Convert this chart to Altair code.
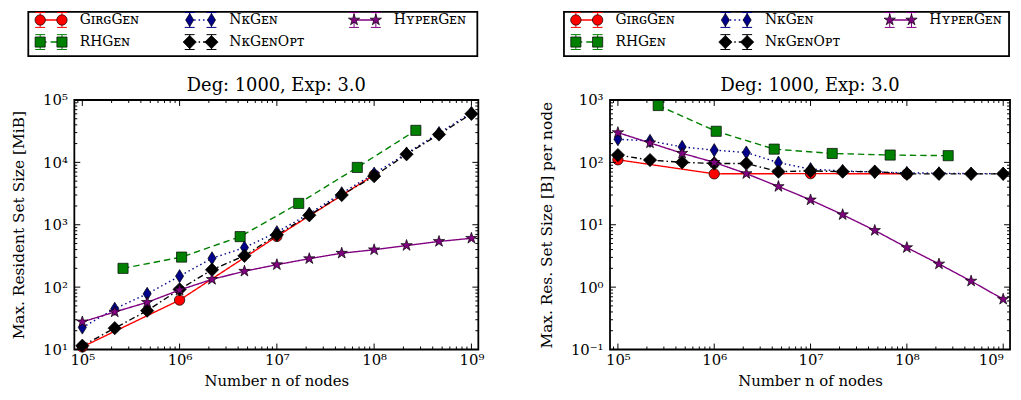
import math
import altair as alt
import pandas as pd

FONT = "DejaVu Serif"

# ---------------- data ----------------
SERIES = ["GirgGen", "RHGen", "NkGen", "NkGenOpt", "HyperGen"]
LABELS = ["GɪʀɢGᴇɴ", "RHGᴇɴ", "NᴋGᴇɴ", "NᴋGᴇɴOᴘᴛ", "HʏᴘᴇʀGᴇɴ"]

N_THIRDS = [1e5, 2.154e5, 4.642e5, 1e6, 2.154e6, 4.642e6, 1e7, 2.154e7,
            4.642e7, 1e8, 2.154e8, 4.642e8, 1e9]
N_GIRG = [1e5, 1e6, 1e7, 1e8]
N_RH = [262144, 1048576, 4194304, 16777216, 67108864, 268435456]

MEM_GIRG = [11, 62, 650, 6300]
MEM_RH = [200, 303, 645, 2200, 8300, 32600]
MEM_NK = [22.5, 45, 78, 150, 290, 430, 760, 1510, 3200, 6600, 13900, 29500, 62500]
MEM_NKOPT = [11.5, 22, 42, 92, 190, 318, 690, 1420, 3000, 6000, 13500, 28000, 60000]
MEM_HYPER = [27.7, 40, 57, 90, 133, 180, 229, 286, 350, 397, 465, 540, 607]

PER_GIRG = [110, 65.5, 66, 65.5]
PER_RH = [815, 315, 163, 139, 131, 128]
PER_NK = [235, 221, 177, 157, 144, 99, 78, 73, 70, 68, 67, 66, 66]
PER_NKOPT = [131, 109, 100, 96, 96, 71, 73, 71, 71, 65.5, 65.5, 65.5, 65.5]
PER_HYPER = [300, 205, 140, 100, 66, 41, 25, 14.5, 8.1, 4.3, 2.35, 1.25, 0.64]

TITLE = "Deg: 1000, Exp: 3.0"
X_TITLE = "Number n of nodes"
Y_TITLE_L = "Max. Resident Set Size [MiB]"
Y_TITLE_R = "Max. Res. Set Size [B] per node"

X_MAJOR = [1e5, 1e6, 1e7, 1e8, 1e9]
Y_MAJOR_L = [1e1, 1e2, 1e3, 1e4, 1e5]
Y_MAJOR_R = [1e-1, 1e0, 1e1, 1e2, 1e3]

# ---------------- styles ----------------
COLORS = ["#ff0000", "#008000", "#00008b", "#000000", "#800080"]
DASHES = [[1, 0], [6.5, 4], [1.5, 3], [6, 3, 1.5, 3], [1, 0]]
STAR = ("M0,-1L0.2245,-0.309L0.951,-0.309L0.363,0.118L0.588,0.809L0,0.382"
        "L-0.588,0.809L-0.363,0.118L-0.951,-0.309L-0.2245,-0.309Z")
THIN_D = "M0,-1L0.62,0L0,1L-0.62,0Z"
SHAPES = ["circle", "square", THIN_D, "diamond", STAR]
SIZES = [110, 105, 175, 180, 145]

W_L, W_R, H = 408, 404, 252
XDOM = [10 ** 4.918, 10 ** 9.071]

# legend layout (pixels relative to the plot area)
LEG_LEFT = -46.5
LEG_TOP, LEG_BOTTOM = -89, -44.2
LEG_COL_OFF = [12, 163, 329]
LEG_ROW_Y = [-80.8, -58.5]


def minor_ticks(lo_exp, hi_exp, dom):
    out = []
    for e in range(lo_exp, hi_exp + 1):
        for m in range(2, 10):
            v = m * 10.0 ** e
            if dom[0] < v < dom[1]:
                out.append(v)
    return out


rows = []
for s, ns, mem, per in zip(
        SERIES,
        [N_GIRG, N_RH, N_THIRDS, N_THIRDS, N_THIRDS],
        [MEM_GIRG, MEM_RH, MEM_NK, MEM_NKOPT, MEM_HYPER],
        [PER_GIRG, PER_RH, PER_NK, PER_NKOPT, PER_HYPER]):
    for n, m, p in zip(ns, mem, per):
        rows.append({"series": s, "n": n, "mem": m, "per": p})
df = pd.DataFrame(rows)

SUP = ("'10' + ['\u207b\u00b9','\u2070','\u00b9','\u00b2','\u00b3','\u2074',"
       "'\u2075','\u2076','\u2077','\u2078','\u2079'][round(log(datum.value)/LN10)+1]")


def one(**kw):
    return alt.Chart(pd.DataFrame({k: [v] for k, v in kw.items()} or {"k": [0]}))


def panel(field, ydom, ymajor, ytitle, W, flush_last=False):
    xs = alt.Scale(type="log", domain=XDOM, nice=False)
    ys = alt.Scale(type="log", domain=ydom, nice=False)
    x_minor = minor_ticks(4, 8, XDOM)
    y_minor = minor_ticks(int(round(math.log10(ydom[0]))) - 1,
                          int(round(math.log10(ydom[1]))), ydom)
    xaxis = alt.Axis(values=X_MAJOR, labelExpr=SUP, ticks=False, domain=False, grid=False,
                     title=X_TITLE, labelFontSize=15, titleFontSize=15, labelPadding=3,
                     titlePadding=6, labelFlush=7.5 if flush_last else False,
                     labelOverlap=False)
    yaxis = alt.Axis(values=ymajor, labelExpr=SUP, ticks=False, domain=False, grid=False,
                     title=ytitle, labelFontSize=15, titleFontSize=15.5, labelPadding=7,
                     titlePadding=16, labelOverlap=False)

    def X(f):
        return alt.X(f, scale=xs, axis=xaxis)

    def Y(f):
        return alt.Y(f, scale=ys, axis=yaxis)

    layers = []

    # data series, in legend order (later ones on top)
    for i, s in enumerate(SERIES):
        base = alt.Chart(df).transform_filter(alt.datum.series == s)
        layers.append(base.mark_line(color=COLORS[i], strokeWidth=1.4,
                                     strokeDash=DASHES[i]).encode(
            x=X("n:Q"), y=Y(f"{field}:Q")))
        layers.append(base.mark_point(filled=True, shape=SHAPES[i], size=SIZES[i],
                                      fill=COLORS[i], stroke="black", strokeWidth=0.7,
                                      opacity=1).encode(
            x=X("n:Q"), y=Y(f"{field}:Q")))

    # inward ticks on all four sides
    def tchart(vals):
        return alt.Chart(pd.DataFrame({"t": vals})).mark_rule(color="black", strokeWidth=1)

    for vals, L in [(X_MAJOR, 6), (x_minor, 3)]:
        layers.append(tchart(vals).encode(x=X("t:Q"), y=alt.value(H), y2=alt.value(H - L)))
        layers.append(tchart(vals).encode(x=X("t:Q"), y=alt.value(0), y2=alt.value(L)))
    for vals, L in [(ymajor, 6), (y_minor, 3)]:
        layers.append(tchart(vals).encode(y=Y("t:Q"), x=alt.value(0), x2=alt.value(L)))
        layers.append(tchart(vals).encode(y=Y("t:Q"), x=alt.value(W), x2=alt.value(W - L)))

    # panel title
    layers.append(one(title=TITLE).mark_text(
        font=FONT, fontSize=18, baseline="alphabetic", align="center", color="black").encode(
        x=alt.value(W / 2), y=alt.value(-9.5), text="title:N"))

    # legend box
    layers.append(one().mark_rect(fill="white", stroke="black", strokeWidth=1.8).encode(
        x=alt.value(LEG_LEFT), x2=alt.value(W - 1), y=alt.value(LEG_TOP),
        y2=alt.value(LEG_BOTTOM)))

    for i, s in enumerate(SERIES):
        bx = LEG_LEFT + LEG_COL_OFF[i // 2]
        ly = LEG_ROW_Y[i % 2]
        m1, m2, tx = bx, bx + 22, bx + 40
        layers.append(one().mark_rule(color=COLORS[i], strokeWidth=1.4,
                                      strokeDash=DASHES[i]).encode(
            x=alt.value(m1), x2=alt.value(m2), y=alt.value(ly)))
        for m in (m1, m2):
            layers.append(one().mark_rule(color=COLORS[i], strokeWidth=1).encode(
                x=alt.value(m), y=alt.value(ly - 7.5), y2=alt.value(ly + 7.5)))
            for yy in (ly - 7.5, ly + 7.5):
                layers.append(one().mark_rule(color=COLORS[i], strokeWidth=1).encode(
                    x=alt.value(m - 5), x2=alt.value(m + 5), y=alt.value(yy)))
            layers.append(one().mark_point(filled=True, shape=SHAPES[i], size=SIZES[i],
                                           fill=COLORS[i], stroke="black", strokeWidth=0.7,
                                           opacity=1).encode(
                x=alt.value(m), y=alt.value(ly)))
        layers.append(one(label=LABELS[i]).mark_text(
            font=FONT, fontSize=14, align="left", baseline="middle", color="black").encode(
            x=alt.value(tx), y=alt.value(ly), text="label:N"))

    return alt.layer(*layers).properties(width=W, height=H)


left = panel("mem", [1e1, 1e5], Y_MAJOR_L, Y_TITLE_L, W_L)
right = panel("per", [1e-1, 1e3], Y_MAJOR_R, Y_TITLE_R, W_R, flush_last=True)

chart = (alt.hconcat(left, right, spacing=133, bounds="flush")
         .properties(padding={"left": 2, "top": 0, "right": 0, "bottom": 0})
         .configure_view(stroke="black", strokeWidth=1.8)
         .configure_axis(labelFont=FONT, titleFont=FONT, labelColor="black",
                         titleColor="black", titleFontWeight="normal")
         .configure_text(font=FONT))

chart.save("out.html", embed_options={"renderer": "svg", "actions": False})
